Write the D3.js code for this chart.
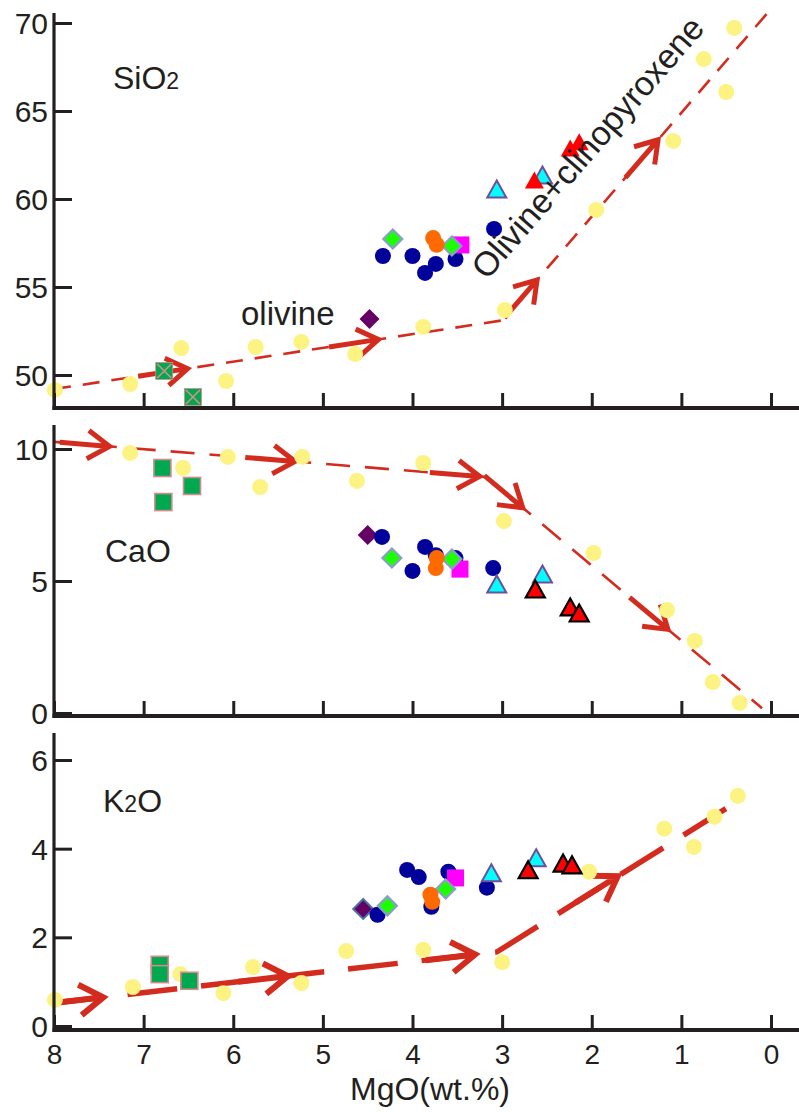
<!DOCTYPE html>
<html><head><meta charset="utf-8">
<script src="https://cdn.jsdelivr.net/npm/d3@7"></script>
<style>
body{margin:0;background:#fff}
svg{display:block}
text{font-family:"Liberation Sans",Arial,sans-serif;fill:#231f20}
</style>
</head><body>
<svg id="chart" width="799" height="1112"></svg>
<script>
// ---------------- DATA ----------------
const mgoTicks = [8, 7, 6, 5, 4, 3, 2, 1, 0];
const sio2Ticks = [50, 55, 60, 65, 70];
const caoTicks = [0, 5, 10];
const k2oTicks = [0, 2, 4, 6];

// pale-yellow modelled liquid points [MgO, oxide]
const modelSiO2 = [[7.99,49.15],[7.15,49.49],[6.58,51.53],[6.08,49.66],[5.75,51.59],[5.24,51.88],[4.64,51.19],[3.88,52.73],[2.97,53.69],[1.95,59.38],[1.09,63.30],[0.50,66.08],[0.75,67.95],[0.41,69.72]];
const modelCaO  = [[7.15,9.85],[6.56,9.28],[6.06,9.70],[5.70,8.56],[5.23,9.70],[4.62,8.79],[3.88,9.47],[2.98,7.27],[1.98,6.06],[1.16,3.90],[0.85,2.73],[0.65,1.17],[0.35,0.38]];
const modelK2O  = [[7.99,0.59],[7.12,0.88],[6.59,1.17],[6.11,0.74],[5.78,1.33],[5.24,0.97],[4.74,1.69],[3.88,1.72],[3.00,1.44],[2.03,3.48],[1.19,4.45],[0.86,4.04],[0.63,4.72],[0.37,5.19]];

// green squares
const greenSqSiO2 = [[6.77,50.23],[6.45,48.75]];
const greenSqCaO  = [[6.79,9.28],[6.46,8.60],[6.78,7.99]];
const greenSqK2O  = [[6.82,1.38],[6.82,1.17],[6.49,1.02]];

// purple diamonds
const purpleDiaSiO2 = [[4.48,53.18]];
const purpleDiaCaO  = [[4.50,6.74]];
const purpleDiaK2O  = [[4.55,2.64]];

// dark-blue circles
const blueSiO2 = [[4.33,56.76],[4.00,56.76],[3.86,55.80],[3.74,56.31],[3.52,56.59],[3.09,58.30]];
const blueCaO  = [[4.34,6.67],[4.00,5.38],[3.86,6.29],[3.74,5.98],[3.52,5.87],[3.10,5.49]];
const blueK2O  = [[4.39,2.51],[4.06,3.52],[3.93,3.36],[3.79,2.69],[3.60,3.48],[3.17,3.12]];

// magenta squares
const magentaSiO2 = [[3.46,57.39]];
const magentaCaO  = [[3.47,5.45]];
const magentaK2O  = [[3.52,3.34]];

// bright-green diamonds
const greenDiaSiO2 = [[4.22,57.73],[3.56,57.33]];
const greenDiaCaO  = [[4.23,5.87],[3.56,5.83]];
const greenDiaK2O  = [[4.28,2.71],[3.63,3.09]];

// orange circles
const orangeSiO2 = [[3.77,57.78],[3.73,57.40]];
const orangeCaO  = [[3.73,5.87],[3.74,5.49]];
const orangeK2O  = [[3.80,2.96],[3.78,2.80]];

// cyan triangles
const cyanSiO2 = [[3.06,60.45],[2.55,61.25]];
const cyanCaO  = [[3.06,4.81],[2.55,5.19]];
const cyanK2O  = [[3.12,3.41],[2.62,3.75]];

// red triangles
const redSiO2 = [[2.64,60.97],[2.24,62.78],[2.14,63.13]];
const redCaO  = [[2.63,4.62],[2.24,3.94],[2.14,3.71]];
const redK2O  = [[2.71,3.48],[2.32,3.63],[2.22,3.59]];

// fractionation trends (vertices) and arrow-tip MgO positions
const trendSiO2 = [[8,49.2],[3.0,53.1],[0,70.8]];
const trendCaO  = [[8,10.27],[3.18,8.94],[0.1,0.18]];
const trendK2O  = [[8,0.52],[3.06,1.67],[0.38,5.06]];
const arrowsSiO2 = [6.51, 4.38, 2.61, 1.26];
const arrowsCaO  = [7.38, 5.31, 3.25, 2.77, 1.15];
const arrowsK2O  = [7.45, 5.39, 3.30, 1.71];

// ---------------- LAYOUT / STYLE ----------------
const W = 799, H = 1112;
const svg = d3.select("#chart");
svg.append("rect").attr("width", W).attr("height", H).attr("fill", "#fff");
const AX = "#231f20", RED = "#d42b1f", YEL = "#fcf383";

const x = d3.scaleLinear().domain([8, 0]).range([54, 771]);

const panels = [
  {name:"SiO2", ticks:sio2Ticks, domain:[50,70], range:[375,23], top:13, bottom:408,
   trend:trendSiO2, arrows:arrowsSiO2, dash:"17,12", lw:2.6, aw:5, al:25,
   label:{x:113,y:89,main:"SiO",sub:"2",after:""},
   series:{model:modelSiO2, gsq:greenSqSiO2, pdia:purpleDiaSiO2, blue:blueSiO2, mag:magentaSiO2, gdia:greenDiaSiO2, org:orangeSiO2, cyan:cyanSiO2, red:redSiO2}},
  {name:"CaO", ticks:caoTicks, domain:[0,10], range:[713,449], top:425, bottom:716,
   trend:trendCaO, arrows:arrowsCaO, dash:"24,15", lw:2.6, aw:5, al:26,
   label:{x:105,y:562,main:"CaO",sub:"",after:""},
   series:{model:modelCaO, gsq:greenSqCaO, pdia:purpleDiaCaO, blue:blueCaO, mag:magentaCaO, gdia:greenDiaCaO, org:orangeCaO, cyan:cyanCaO, red:redCaO}},
  {name:"K2O", ticks:k2oTicks, domain:[0,6], range:[1026,760], top:733, bottom:1030,
   trend:trendK2O, arrows:arrowsK2O, dash:"50,24", lw:5.5, aw:6, al:28,
   label:{x:103,y:812,main:"K",sub:"2",after:"O"},
   series:{model:modelK2O, gsq:greenSqK2O, pdia:purpleDiaK2O, blue:blueK2O, mag:magentaK2O, gdia:greenDiaK2O, org:orangeK2O, cyan:cyanK2O, red:redK2O}}
];

function diamondPath(r){ return `M0,${-r}L${r},0L0,${r}L${-r},0Z`; }
function triPath(w,h){ return `M0,${-h*0.62}L${w/2},${h*0.38}L${-w/2},${h*0.38}Z`; }

panels.forEach((p, pi) => {
  const y = d3.scaleLinear().domain(p.domain).range(p.range);
  const g = svg.append("g");

  // trend dashed line
  const line = d3.line().x(d => x(d[0])).y(d => y(d[1]));
  g.append("path").attr("d", line(p.trend)).attr("fill", "none")
    .attr("stroke", RED).attr("stroke-width", p.lw).attr("stroke-dasharray", p.dash);

  // arrows
  p.arrows.forEach(m => {
    let a, b;
    for (let i = 0; i < p.trend.length - 1; i++) {
      if (m <= p.trend[i][0] && m >= p.trend[i+1][0]) { a = p.trend[i]; b = p.trend[i+1]; break; }
    }
    const t = (a[0] - m) / (a[0] - b[0]);
    const v = a[1] + t * (b[1] - a[1]);
    const px = x(m), py = y(v);
    let dx = x(b[0]) - x(a[0]), dy = y(b[1]) - y(a[1]);
    const len = Math.hypot(dx, dy); dx /= len; dy /= len;
    const L = 50, A = p.al, ang = 33 * Math.PI / 180;
    const bx = -dx, by = -dy;
    const r1x = bx*Math.cos(ang) - by*Math.sin(ang), r1y = bx*Math.sin(ang) + by*Math.cos(ang);
    const r2x = bx*Math.cos(-ang) - by*Math.sin(-ang), r2y = bx*Math.sin(-ang) + by*Math.cos(-ang);
    g.append("path")
      .attr("d", `M${px - dx*L},${py - dy*L}L${px},${py}M${px + r1x*A},${py + r1y*A}L${px},${py}L${px + r2x*A},${py + r2y*A}`)
      .attr("fill", "none").attr("stroke", RED).attr("stroke-width", p.aw)
      .attr("stroke-linejoin", "miter").attr("stroke-linecap", "butt");
  });

  const S = p.series;
  const pos = d => `translate(${x(d[0])},${y(d[1])})`;

  // model points
  g.selectAll(".model").data(S.model).join("circle")
    .attr("cx", d => x(d[0])).attr("cy", d => y(d[1])).attr("r", 8).attr("fill", YEL);

  // green squares
  const gs = g.selectAll(".gsq").data(S.gsq).join("g").attr("transform", pos);
  gs.append("rect").attr("x", -8.5).attr("y", -8.5).attr("width", 17).attr("height", 17)
    .attr("fill", "#00a94f").attr("stroke", "#d38a8c").attr("stroke-width", pi === 0 ? 0.8 : 1.6);
  if (pi === 0) {
    gs.append("path").attr("d", "M-7,-7L7,7M7,-7L-7,7").attr("stroke", "#d98e8e").attr("stroke-width", 1.6);
  }

  // purple diamonds
  g.selectAll(".pdia").data(S.pdia).join("path").attr("transform", pos)
    .attr("d", diamondPath(10)).attr("fill", "#650065")
    .attr("stroke", pi === 2 ? "#4a74a8" : "none").attr("stroke-width", 2);

  // blue circles
  g.selectAll(".blue").data(S.blue).join("circle")
    .attr("cx", d => x(d[0])).attr("cy", d => y(d[1])).attr("r", 8).attr("fill", "#00009b");

  // magenta squares
  g.selectAll(".mag").data(S.mag).join("rect")
    .attr("x", d => x(d[0]) - 8.5).attr("y", d => y(d[1]) - 8.5).attr("width", 17).attr("height", 17)
    .attr("fill", "#ff00ff");

  // green diamonds
  g.selectAll(".gdia").data(S.gdia).join("path").attr("transform", pos)
    .attr("d", diamondPath(9.5)).attr("fill", "#1cff00").attr("stroke", "#8c9ccc").attr("stroke-width", 2.2);

  // orange circles
  g.selectAll(".org").data(S.org).join("circle")
    .attr("cx", d => x(d[0])).attr("cy", d => y(d[1])).attr("r", 8).attr("fill", "#ff6a00");

  // cyan triangles
  g.selectAll(".cyan").data(S.cyan).join("path").attr("transform", pos)
    .attr("d", triPath(19, 17)).attr("fill", "#00ffff").attr("stroke", "#6d4f9c").attr("stroke-width", 2);

  // red triangles
  g.selectAll(".red").data(S.red).join("path").attr("transform", pos)
    .attr("d", triPath(19, 17)).attr("fill", "#ff0000")
    .attr("stroke", pi === 0 ? "none" : "#000").attr("stroke-width", 2.2).attr("stroke-linejoin", "miter");

  // axes
  const yAxis = d3.axisLeft(y).tickValues(p.ticks).tickSize(-18).tickSizeOuter(0).tickPadding(6)
    .tickFormat(d3.format("d"));
  const ya = svg.append("g").attr("transform", "translate(54,0)").call(yAxis);
  ya.select(".domain").remove();
  ya.selectAll(".tick line").attr("stroke", AX).attr("stroke-width", 3);
  ya.selectAll(".tick text").attr("font-size", 30).attr("fill", AX).attr("dy", "0.35em")
    .style("font-family", '"Liberation Sans",Arial,sans-serif');

  const xAxis = d3.axisBottom(x).tickValues(mgoTicks).tickSize(-15).tickSizeOuter(0).tickPadding(14)
    .tickFormat(pi === 2 ? d3.format("d") : () => "");
  const xa = svg.append("g").attr("transform", `translate(0,${p.bottom})`).call(xAxis);
  xa.select(".domain").remove();
  xa.selectAll(".tick line").attr("stroke", AX).attr("stroke-width", 3);
  xa.selectAll(".tick text").attr("font-size", 28).attr("fill", AX)
    .style("font-family", '"Liberation Sans",Arial,sans-serif');

  // spines
  svg.append("line").attr("x1", 54).attr("x2", 54).attr("y1", p.top).attr("y2", p.bottom + 2)
    .attr("stroke", AX).attr("stroke-width", 3.2);
  svg.append("line").attr("x1", 52.5).attr("x2", W).attr("y1", p.bottom).attr("y2", p.bottom)
    .attr("stroke", AX).attr("stroke-width", 4);

  // panel label
  const t = svg.append("text").attr("x", p.label.x).attr("y", p.label.y).attr("font-size", 32);
  t.append("tspan").text(p.label.main);
  if (p.label.sub) t.append("tspan").attr("font-size", 23).text(p.label.sub);
  if (p.label.after) t.append("tspan").text(p.label.after);
});

// annotations
svg.append("text").attr("x", 241).attr("y", 325).attr("font-size", 33).text("olivine");
svg.append("text").attr("transform", "translate(487,281) rotate(-49)").attr("font-size", 34)
  .text("Olivine+clinopyroxene");

// x-axis title
svg.append("text").attr("x", 430).attr("y", 1100).attr("text-anchor", "middle")
  .attr("font-size", 32).text("MgO(wt.%)");
</script>
</body></html>
